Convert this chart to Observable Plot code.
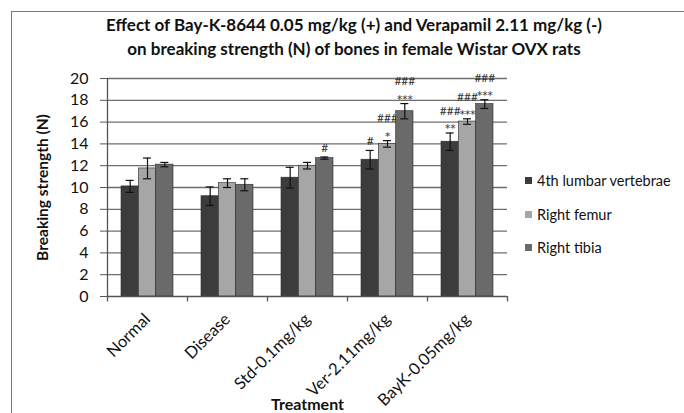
<!DOCTYPE html>
<html><head><meta charset="utf-8">
<script src="https://cdn.jsdelivr.net/npm/d3@7"></script>
<script src="https://cdn.jsdelivr.net/npm/@observablehq/plot@0.6"></script>
<style>
body{margin:0;background:#fff;font-family:Lato,"Open Sans",sans-serif;}
#wrap{position:relative;width:684px;height:413px;overflow:hidden;background:#fff;}
#bl{position:absolute;left:11px;top:11px;width:1px;height:402px;background:#7a7a7a;}
#bt{position:absolute;left:11px;top:11px;width:673px;height:1px;background:#7a7a7a;}
#title{position:absolute;left:0;width:708px;top:13px;text-align:center;font-weight:bold;font-size:17px;line-height:24px;color:#111;}
#chart{position:absolute;left:0;top:0;}
#legend{position:absolute;left:525px;top:172px;font-size:14.5px;color:#111;}
#legend div{height:33.5px;display:flex;align-items:flex-start;}
#legend span.sw{display:inline-block;width:7px;height:7px;margin-top:5px;margin-right:5px;}
</style></head>
<body><div id="wrap"><div id="bl"></div><div id="bt"></div>
<div id="title">Effect of Bay-K-8644 0.05 mg/kg (+) and Verapamil 2.11 mg/kg (-)<br>on breaking strength (N) of bones in female Wistar OVX rats</div>
<div id="chart"></div><div id="legend"></div></div>
<script>
const categories = ["Normal","Disease","Std-0.1mg/kg","Ver-2.11mg/kg","BayK-0.05mg/kg"];
const seriesNames = ["4th lumbar vertebrae","Right femur","Right tibia"];
const lumbar    = [10.1, 9.2, 10.9, 12.55, 14.2];
const lumbarErr = [0.55, 0.85, 0.95, 0.85, 0.8];
const femur     = [11.75, 10.4, 12.0, 14.0, 16.05];
const femurErr  = [0.95, 0.4, 0.3, 0.3, 0.25];
const tibia     = [12.1, 10.25, 12.7, 17.0, 17.65];
const tibiaErr  = [0.2, 0.55, 0.1, 0.7, 0.4];
const lumbarStars = ["","","","","**"];
const femurStars  = ["","","","*","***"];
const tibiaStars  = ["","","","***","***"];
const lumbarHash  = ["","","","#","###"];
const femurHash   = ["","","","###","###"];
const tibiaHash   = ["","","#","###","###"];
const yTicks = [0,2,4,6,8,10,12,14,16,18,20];
const colors = ["#3c3c3c","#a6a6a6","#6a6a6a"];

const W = 684, H = 413, mL = 107, mR = 177, mT = 78, mB = 117;
const step = (W - mL - mR) / categories.length;
const groupW = step * 0.65, pad = (step - groupW) / 2, barW = groupW / 3;

const vals = [lumbar, femur, tibia], errs = [lumbarErr, femurErr, tibiaErr];
const stars = [lumbarStars, femurStars, tibiaStars], hashes = [lumbarHash, femurHash, tibiaHash];

const marks = [
  Plot.gridY(yTicks.filter(d => d > 0), {stroke: "#6e6e6e", strokeOpacity: 1, strokeWidth: 1.3}),
  Plot.axisY({ticks: yTicks, tickSize: 7, tickPadding: 12, fontSize: 16, label: null, stroke:"#555"}),
  Plot.ruleX([categories[0]], {y1: 0, y2: 20, dx: -step/2, stroke: "#555", strokeWidth: 1.3}),
];
seriesNames.forEach((s, i) => {
  const data = categories.map((c, j) => ({c, v: vals[i][j], e: errs[i][j], st: stars[i][j], h: hashes[i][j]}));
  const left = pad + i * barW, ctr = pad + (i + 0.5) * barW;
  marks.push(Plot.barY(data, {x: "c", y: "v", fill: colors[i], stroke: "#2a2a2a", strokeWidth: 0.6,
    insetLeft: left, insetRight: step - left - barW}));
  marks.push(Plot.ruleX(data, {x: "c", y1: d => d.v - d.e, y2: d => d.v + d.e, dx: ctr - step/2, stroke: "#111", strokeWidth: 1.2}));
  for (const f of [d => d.v - d.e, d => d.v + d.e]) {
    marks.push(Plot.tickY(data, {x: "c", y: f, stroke: "#111", strokeWidth: 1.2,
      insetLeft: ctr - 4, insetRight: step - ctr - 4}));
  }
  marks.push(Plot.text(data.filter(d => d.st), {x: "c", y: d => d.v + d.e, text: "st", dx: ctr - step/2, dy: -4, fontSize: 10.5, fontFamily: "DejaVu Sans", letterSpacing: "-0.5px", fill: "#333", lineAnchor: "middle"}));
  marks.push(Plot.text(data.filter(d => d.h && d.st), {x: "c", y: d => d.v + d.e, text: "h", dx: ctr - step/2, dy: -22, fontSize: 12, letterSpacing: "-0.8px", fill: "#333", lineAnchor: "middle"}));
  marks.push(Plot.text(data.filter(d => d.h && !d.st), {x: "c", y: d => d.v + d.e, text: "h", dx: ctr - step/2, dy: -9, fontSize: 12, letterSpacing: "-0.8px", fill: "#333", lineAnchor: "middle"}));
});
marks.push(Plot.ruleY([0], {stroke: "#555", strokeWidth: 1.3}));
marks.push(Plot.ruleX(categories, {x: d => d, y1: 0, y2: -0.5, dx: -step/2, stroke: "#555", strokeWidth: 1.3}));
marks.push(Plot.ruleX([categories[categories.length-1]], {y1: 0, y2: -0.5, dx: step/2, stroke: "#555", strokeWidth: 1.3}));
marks.push(Plot.axisX({tickSize: 0, tickPadding: 20, tickRotate: -45, fontSize: 16.5, label: null}));
marks.push(Plot.text(["Breaking strength (N)"], {frameAnchor: "left", textAnchor: "middle", dx: -64, rotate: -90, fontSize: 15.5, fontWeight: "bold", fill: "#111"}));
marks.push(Plot.text(["Treatment"], {frameAnchor: "bottom", dy: 113, fontSize: 16, fontWeight: "bold", fill: "#111"}));

const chart = Plot.plot({
  width: W, height: H, marginLeft: mL, marginRight: mR, marginTop: mT, marginBottom: mB,
  style: {fontFamily: "Lato, 'Open Sans', sans-serif", color: "#111", background: "transparent"},
  x: {type: "band", domain: categories, padding: 0},
  y: {domain: [0, 20]},
  marks
});
document.getElementById("chart").append(chart);
const lg = document.getElementById("legend");
seriesNames.forEach((s, i) => {
  const d = document.createElement("div");
  d.innerHTML = `<span class="sw" style="background:${colors[i]}"></span>${s}`;
  lg.append(d);
});
</script></body></html>
